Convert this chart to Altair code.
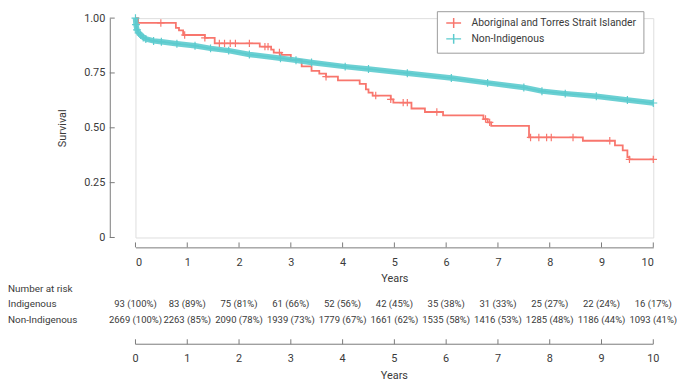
import altair as alt
import pandas as pd

GROUP_IND = "Aboriginal and Torres Strait Islander"
GROUP_NON = "Non-Indigenous"
RED = "#F8766D"
TEAL = "#5CCBCE"
TEXT = "#3a3a3a"
AXIS = "#7a7a7a"
FONT = "Roboto"

# Kaplan-Meier curve, Aboriginal and Torres Strait Islander (step points)
ind_time = [0, 0.05, 0.78, 0.84, 0.92, 1.34, 1.53, 2.40, 2.62, 2.67, 2.82, 3.00, 3.21, 3.40, 3.55,
            3.68, 3.91, 4.33, 4.45, 4.50, 4.58, 4.93, 4.98, 5.33, 5.59, 5.94, 6.72, 6.80, 6.87, 7.60,
            8.64, 9.26, 9.41, 9.50, 9.54, 10.0]
ind_surv = [1.0, 0.978, 0.956, 0.944, 0.923, 0.910, 0.885, 0.870, 0.856, 0.843, 0.832, 0.810, 0.780, 0.760, 0.747,
            0.733, 0.716, 0.700, 0.675, 0.660, 0.647, 0.630, 0.615, 0.588, 0.572, 0.557, 0.540, 0.525, 0.509, 0.456,
            0.441, 0.420, 0.397, 0.366, 0.356, 0.356]
# censoring marks, Indigenous
ind_cens_time = [0.49, 0.95, 1.34, 1.62, 1.72, 1.83, 1.93, 2.20, 2.50, 2.56, 2.78, 3.68, 4.64, 4.93, 5.17,
                 5.25, 5.82, 6.76, 6.84, 7.63, 7.79, 7.94, 8.03, 8.45, 9.16, 9.54, 10.0]
ind_cens_surv = [0.978, 0.923, 0.910, 0.885, 0.885, 0.885, 0.885, 0.885, 0.870, 0.870, 0.843, 0.733, 0.647, 0.630, 0.615,
                 0.615, 0.572, 0.540, 0.525, 0.456, 0.456, 0.456, 0.456, 0.456, 0.441, 0.356, 0.356]

# Kaplan-Meier curve, Non-Indigenous
non_time = [0, 0.01, 0.03, 0.06, 0.1, 0.15, 0.2, 0.35, 0.5, 0.8, 1.15, 1.45, 1.8, 2.2, 2.8,
            3.1, 3.4, 4.05, 4.5, 5.25, 6.1, 6.8, 7.5, 7.85, 8.3, 8.9, 9.5, 10.0]
non_surv = [1.0, 0.97, 0.946, 0.933, 0.923, 0.912, 0.905, 0.896, 0.892, 0.883, 0.874, 0.862, 0.852, 0.834, 0.817,
            0.808, 0.798, 0.779, 0.768, 0.749, 0.727, 0.705, 0.684, 0.667, 0.656, 0.644, 0.627, 0.613]

years = [0, 1, 2, 3, 4, 5, 6, 7, 8, 9, 10]
ind_at_risk = ["93 (100%)", "83 (89%)", "75 (81%)", "61 (66%)", "52 (56%)", "42 (45%)",
               "35 (38%)", "31 (33%)", "25 (27%)", "22 (24%)", "16 (17%)"]
non_at_risk = ["2669 (100%)", "2263 (85%)", "2090 (78%)", "1939 (73%)", "1779 (67%)", "1661 (62%)",
               "1535 (58%)", "1416 (53%)", "1285 (48%)", "1186 (44%)", "1093 (41%)"]
y_tick_values = [0, 0.25, 0.5, 0.75, 1.0]
row_labels = ["Number at risk", "Indigenous", "Non-Indigenous"]

W, H = 524, 222
PLUS = "M-1,0H1M0,-1V1"
LEGEND_PLUS = "M-1.5,0H1.5M0,-1V1"

ind_df = pd.DataFrame({"t": ind_time, "s": ind_surv, "group": GROUP_IND})
ind_cens_df = pd.DataFrame({"t": ind_cens_time, "s": ind_cens_surv})
non_df = pd.DataFrame({"t": non_time, "s": non_surv, "group": GROUP_NON})
risk_df = pd.DataFrame({"t": years, "ind": ind_at_risk, "non": non_at_risk, "label": [str(y) for y in years]})
ytick_df = pd.DataFrame({"s": y_tick_values})
axis2_df = pd.DataFrame({"t": [years[0]], "t2": [years[-1]]})
one_df = pd.DataFrame({"k": [0]})

x_scale = alt.Scale(domain=[0, 10], nice=False, zero=False)
x_axis = alt.Axis(values=years, format="d", offset=10, ticks=False, tickSize=0, domainColor=AXIS,
                  labelPadding=9, labelFontSize=11, labelColor=TEXT, title="Years", titlePadding=6,
                  titleFontSize=11, titleFontWeight="normal", titleColor=TEXT, grid=False)
X = alt.X("t:Q", scale=x_scale, axis=x_axis)

y_scale = alt.Scale(domain=[0, 1], nice=False)
y_axis = alt.Axis(values=y_tick_values, labelExpr="datum.value == 0 ? '0' : format(datum.value, '.2f')",
                  offset=26, ticks=False, tickSize=0, domainColor=AXIS, labelPadding=5, labelFontSize=11,
                  labelColor=TEXT, title="Survival", titlePadding=16, titleFontSize=11,
                  titleFontWeight="normal", titleColor=TEXT, grid=False)
Y = alt.Y("s:Q", scale=y_scale, axis=y_axis)

color = alt.Color(
    "group:N",
    scale=alt.Scale(domain=[GROUP_IND, GROUP_NON], range=[RED, TEAL]),
    legend=alt.Legend(title=None, orient="none", legendX=305, legendY=-7, strokeColor="#9a9a9a",
                      fillColor="white", padding=6, symbolType=LEGEND_PLUS, symbolSize=100, symbolOffset=5,
                      symbolStrokeWidth=1.5, labelFontSize=10.5, labelColor=TEXT, labelOffset=12,
                      labelLimit=0, rowPadding=0, labelExpr="datum.label + '" + "\u00a0" * 8 + "'"),
)

red_line = alt.Chart(ind_df).mark_line(interpolate="step-after", strokeWidth=1.8).encode(
    x=X, y=Y, color=color, order="t:Q")
red_cens = alt.Chart(ind_cens_df).mark_point(shape=PLUS, filled=False, size=56, strokeWidth=1.2,
                                             color=RED, opacity=1).encode(x=X, y=Y)
teal_band = alt.Chart(non_df).mark_line(strokeWidth=5.5, color=TEAL, opacity=0.9).encode(x=X, y=Y, order="t:Q")
teal_line = alt.Chart(non_df).mark_line(strokeWidth=1.5).encode(x=X, y=Y, color=color, order="t:Q")
teal_cens = alt.Chart(non_df).mark_point(shape=PLUS, filled=False, size=64, strokeWidth=1.2,
                                         color=TEAL, opacity=1).encode(x=X, y=Y)

ytick_marks = alt.Chart(ytick_df).mark_rule(color=AXIS).encode(
    y=Y, x=alt.value(-26), x2=alt.value(-21))
xtick_marks = alt.Chart(risk_df).mark_rule(color=AXIS).encode(
    x=X, y=alt.value(H + 5), y2=alt.value(H + 10))

txt = dict(font=FONT, fontSize=9.6, color=TEXT, baseline="middle")
risk_ind = alt.Chart(risk_df).mark_text(align="center", **txt).encode(x=X, y=alt.value(289), text="ind:N")
risk_non = alt.Chart(risk_df).mark_text(align="center", **txt).encode(x=X, y=alt.value(306), text="non:N")
lab_txt = dict(font=FONT, fontSize=10, color=TEXT, baseline="middle")
lab0 = alt.Chart(one_df).mark_text(align="left", text=row_labels[0], **lab_txt).encode(
    x=alt.value(-129), y=alt.value(274))
lab1 = alt.Chart(one_df).mark_text(align="left", text=row_labels[1], **lab_txt).encode(
    x=alt.value(-129), y=alt.value(289))
lab2 = alt.Chart(one_df).mark_text(align="left", text=row_labels[2], **lab_txt).encode(
    x=alt.value(-129), y=alt.value(306))

axis2_line = alt.Chart(axis2_df).mark_rule(color=AXIS).encode(x=X, x2="t2:Q", y=alt.value(330))
axis2_ticks = alt.Chart(risk_df).mark_rule(color=AXIS).encode(x=X, y=alt.value(325), y2=alt.value(330))
axis2_labels = alt.Chart(risk_df).mark_text(align="center", font=FONT, fontSize=11, color=TEXT,
                                            baseline="middle").encode(x=X, y=alt.value(345), text="label:N")
axis2_title = alt.Chart(one_df).mark_text(align="center", text="Years", font=FONT, fontSize=11,
                                          color=TEXT, baseline="middle").encode(
    x=alt.value(W / 2), y=alt.value(362))

chart = alt.layer(
    red_line, red_cens, teal_band, teal_line, teal_cens,
    ytick_marks, xtick_marks,
    risk_ind, risk_non, lab0, lab1, lab2,
    axis2_line, axis2_ticks, axis2_labels, axis2_title,
).properties(
    width=W, height=H,
    padding={"left": 129, "top": 8, "right": 24, "bottom": 145},
    autosize=alt.AutoSizeParams(type="none"),
).configure_view(stroke=None).configure(font=FONT)

chart.save("out.html", embed_options={"renderer": "svg", "actions": False})
